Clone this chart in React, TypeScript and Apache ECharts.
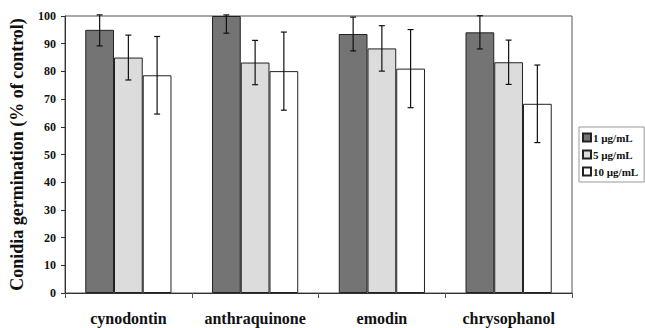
import React, { useEffect, useRef } from "react";
import * as echarts from "echarts";

const categories = ["cynodontin", "anthraquinone", "emodin", "chrysophanol"];
const seriesNames = ["1 µg/mL", "5 µg/mL", "10 µg/mL"];
const values1 = [95, 100, 93.5, 94.1];
const values5 = [85, 83.2, 88.3, 83.3];
const values10 = [78.6, 80.1, 81, 68.3];
const err1 = [5.8, 6.2, 6.1, 6.0];
const err5 = [8.1, 8.0, 8.2, 8.0];
const err10 = [14.0, 14.1, 14.1, 14.0];
const yTicks = [0, 10, 20, 30, 40, 50, 60, 70, 80, 90, 100];

const FONT = "Liberation Serif";

export default function App() {
  const ref = useRef<HTMLDivElement>(null);
  useEffect(() => {
    document.body.style.margin = "0";
    const chart = echarts.init(ref.current!, null, { renderer: "svg" });
    const allVals = [values1, values5, values10];
    const allErr = [err1, err5, err10];
    const fills = ["#747474", "#dcdcdc", "#ffffff"];
    const barSeries = allVals.map((vals, i) => ({
      type: "bar",
      name: seriesNames[i],
      data: vals,
      barGap: "0%",
      barCategoryGap: "32%",
      itemStyle: { color: fills[i], borderColor: "#222", borderWidth: 1 },
      z: 2,
    }));
    const errSeries = allVals.map((vals, i) => ({
      type: "custom",
      name: seriesNames[i] + " err",
      data: vals.map((v, j) => [j, v, allErr[i][j]]),
      clip: false,
      z: 5,
      renderItem: (params: any, api: any) => {
        const idx = api.value(0);
        const v = api.value(1);
        const e = api.value(2);
        const hi = Math.min(v + e, 100.4);
        const lo = v - e;
        const band = api.size([1, 0])[0];
        const barW = band * 0.68 / 3;
        const c = api.coord([idx, v]);
        const x = c[0] + (i - 1) * barW;
        const yHi = api.coord([idx, hi])[1];
        const yLo = api.coord([idx, lo])[1];
        const cap = 3;
        const st = { stroke: "#111", lineWidth: 1.2 };
        return {
          type: "group",
          children: [
            { type: "line", shape: { x1: x, y1: yHi, x2: x, y2: yLo }, style: st },
            { type: "line", shape: { x1: x - cap, y1: yHi, x2: x + cap, y2: yHi }, style: st },
            { type: "line", shape: { x1: x - cap, y1: yLo, x2: x + cap, y2: yLo }, style: st },
          ],
        };
      },
    }));
    chart.setOption({
      animation: false,
      backgroundColor: "#ffffff",
      grid: {
        left: 63,
        right: 73,
        top: 16,
        bottom: 35,
        show: true,
        borderColor: "#555",
        borderWidth: 1,
        backgroundColor: "transparent",
      },
      legend: {
        data: seriesNames,
        orient: "vertical",
        left: 579,
        top: 127,
        itemWidth: 8,
        itemHeight: 8,
        itemGap: 6,
        padding: [5, 6, 5, 3],
        borderColor: "#999",
        borderWidth: 1,
        icon: "rect",
        textStyle: { fontFamily: FONT, fontWeight: "bold", fontSize: 11, color: "#111", padding: [0, 0, 0, -3] },
      },
      xAxis: {
        type: "category",
        data: categories,
        axisLine: { lineStyle: { color: "#333", width: 1 } },
        axisTick: { show: true, length: 5, lineStyle: { color: "#555" } },
        axisLabel: { fontFamily: FONT, fontWeight: "bold", fontSize: 16, color: "#111", margin: 17, interval: 0 },
      },
      yAxis: {
        type: "value",
        min: 0,
        max: 100,
        interval: 10,
        name: "Conidia germination (% of control)",
        nameLocation: "middle",
        nameRotate: 90,
        nameGap: 39,
        nameTextStyle: { fontFamily: FONT, fontWeight: "bold", fontSize: 18, color: "#111" },
        axisLine: { show: true, lineStyle: { color: "#333", width: 1 } },
        axisTick: { show: true, length: 4, lineStyle: { color: "#333" } },
        splitLine: { show: false },
        axisLabel: {
          fontFamily: FONT,
          fontWeight: "bold",
          fontSize: 12,
          color: "#111",
          margin: 9,
          formatter: (v: number) => (yTicks.includes(v) ? String(v) : ""),
        },
      },
      series: [...barSeries, ...errSeries],
    });
    return () => chart.dispose();
  }, []);
  return <div ref={ref} style={{ position: "fixed", left: 0, top: 0, width: 645, height: 328 }} />;
}
